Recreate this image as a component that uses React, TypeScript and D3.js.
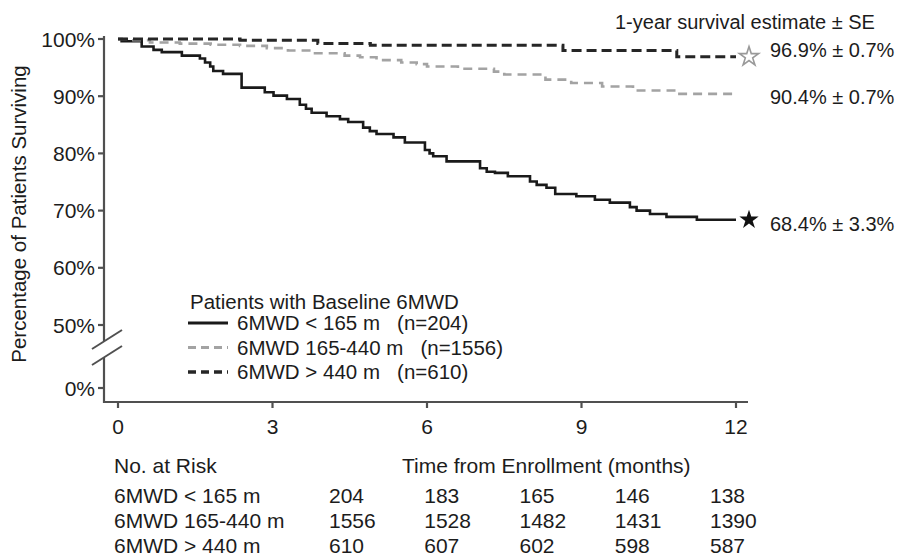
import React, { useEffect, useRef } from 'react';
import * as d3 from 'd3';

// Kaplan-Meier steps: [month, % surviving]
const lowWalk = [
  [0, 100], [0.07, 99.6], [0.46, 98.7], [0.69, 98.1], [0.85, 97.7], [1.24, 97.1],
  [1.59, 96.6], [1.69, 95.9], [1.79, 95.2], [1.85, 94.4], [2.04, 93.9], [2.4, 91.5],
  [2.85, 90.7], [3.02, 90.1], [3.28, 89.5], [3.53, 88.5], [3.65, 87.8], [3.76, 87.1],
  [4.05, 86.5], [4.31, 86.0], [4.47, 85.5], [4.76, 84.5], [4.89, 83.9], [5.02, 83.4],
  [5.35, 82.8], [5.57, 81.9], [5.96, 80.6], [6.05, 80.0], [6.12, 79.5], [6.38, 78.6],
  [7.03, 77.4], [7.16, 76.8], [7.32, 76.6], [7.57, 76.0], [8.0, 75.1], [8.13, 74.5],
  [8.32, 74.0], [8.49, 72.9], [8.9, 72.5], [9.26, 71.9], [9.55, 71.4], [9.94, 70.6],
  [10.07, 70.0], [10.33, 69.4], [10.65, 68.9], [11.24, 68.4], [12, 68.4]
];
const midWalk = [
  [0, 100], [0.3, 99.8], [0.62, 99.4], [1.2, 99.2], [1.8, 99.0], [2.37, 98.8],
  [2.89, 98.4], [3.3, 98.0], [3.79, 97.5], [4.4, 97.1], [4.7, 96.8], [5.02, 96.3],
  [5.5, 95.9], [5.8, 95.6], [6.0, 95.2], [6.6, 94.8], [7.3, 94.3], [7.5, 93.8],
  [8.3, 92.9], [8.8, 92.3], [9.4, 91.7], [10.0, 91.0], [10.8, 90.4], [12, 90.4]
];
const highWalk = [
  [0, 100], [2.37, 99.8], [3.88, 99.2], [4.9, 98.9], [8.64, 98.0], [10.85, 96.9], [12, 96.9]
];

const monthTicks = [0, 3, 6, 9, 12];
const pctTicks = [0, 50, 60, 70, 80, 90, 100];

const groups = ['6MWD < 165 m', '6MWD 165-440 m', '6MWD > 440 m'];
const groupN = [204, 1556, 610];
const atRisk = [
  [204, 183, 165, 146, 138],
  [1556, 1528, 1482, 1431, 1390],
  [610, 607, 602, 598, 587]
];
const estimate = [68.4, 90.4, 96.9];
const estimateSE = [3.3, 0.7, 0.7];

export default function App() {
  const svgRef = useRef<SVGSVGElement>(null);

  useEffect(() => {
    const svg = d3.select(svgRef.current);
    svg.selectAll('*').remove();

    const font = '"Liberation Sans", Arial, sans-serif';
    const ink = '#1c1c1c';
    const axisColor = '#505050';

    const x = d3.scaleLinear().domain([0, 12]).range([118, 736]);
    // broken axis: 0 .. 50 squeezed, 50 .. 100 stretched
    const y = d3.scaleLinear().domain([0, 50, 100]).range([388, 325, 39]);

    const styles = [
      { stroke: '#1a1a1a', width: 2.6, dash: null },
      { stroke: '#a3a3a3', width: 2.6, dash: '9,6' },
      { stroke: '#262626', width: 3, dash: '10,5' }
    ];
    const walks = [lowWalk, midWalk, highWalk];

    // axes
    const ax = svg.append('g').attr('stroke', axisColor).attr('stroke-width', 2.2);
    ax.append('line').attr('x1', 104).attr('x2', 104).attr('y1', 36).attr('y2', 341);
    ax.append('line').attr('x1', 104).attr('x2', 104).attr('y1', 357).attr('y2', 403);
    ax.append('line').attr('x1', 103).attr('x2', 748).attr('y1', 402).attr('y2', 402);
    [0, 16].forEach(off => {
      ax.append('line')
        .attr('x1', 92).attr('y1', 349 + off)
        .attr('x2', 122).attr('y2', 330 + off)
        .attr('stroke-width', 2);
    });

    pctTicks.forEach(t => {
      ax.append('line').attr('x1', 98).attr('x2', 104).attr('y1', y(t)).attr('y2', y(t));
      svg.append('text')
        .attr('x', 95).attr('y', y(t) + 7.5)
        .attr('text-anchor', 'end')
        .attr('font-size', 21).attr('font-family', font).attr('fill', ink)
        .text(`${t}%`);
    });

    monthTicks.forEach(m => {
      ax.append('line').attr('x1', x(m)).attr('x2', x(m)).attr('y1', 402).attr('y2', 408);
      svg.append('text')
        .attr('x', x(m)).attr('y', 434)
        .attr('text-anchor', 'middle')
        .attr('font-size', 21).attr('font-family', font).attr('fill', ink)
        .text(m);
    });

    svg.append('text')
      .attr('transform', 'translate(18,214) rotate(-90)')
      .attr('text-anchor', 'middle')
      .attr('dominant-baseline', 'central')
      .attr('font-size', 20.5).attr('font-family', font).attr('fill', ink)
      .text('Percentage of Patients Surviving');

    // survival curves
    const line = d3.line<number[]>()
      .x(d => x(d[0]))
      .y(d => y(d[1]))
      .curve(d3.curveStepAfter);

    walks.forEach((w, i) => {
      const s = styles[i];
      svg.append('path')
        .attr('d', line(w))
        .attr('fill', 'none')
        .attr('stroke', s.stroke)
        .attr('stroke-width', s.width)
        .attr('stroke-dasharray', s.dash);
    });

    // stars at 1-year estimate
    const star = d3.symbol().type(d3.symbolStar).size(115);
    svg.append('path')
      .attr('d', star())
      .attr('transform', `translate(${x(12) + 13},${y(estimate[0])})`)
      .attr('fill', '#111');
    svg.append('path')
      .attr('d', star())
      .attr('transform', `translate(${x(12) + 13},${y(estimate[2])})`)
      .attr('fill', '#fff').attr('stroke', '#999').attr('stroke-width', 1.6);

    // right-hand estimates
    svg.append('text')
      .attr('x', 615).attr('y', 29)
      .attr('font-size', 20).attr('font-family', font).attr('fill', ink)
      .text('1-year survival estimate ± SE');
    const nudge = [4, 3, -7];
    estimate.forEach((v, i) => {
      svg.append('text')
        .attr('x', 770).attr('y', y(v) + 7 + nudge[i])
        .attr('font-size', 20).attr('font-family', font).attr('fill', ink)
        .text(`${v.toFixed(1)}% ± ${estimateSE[i].toFixed(1)}%`);
    });

    // legend
    const lg = svg.append('g').attr('font-family', font).attr('fill', ink).attr('font-size', 20.5);
    lg.append('text').attr('x', 190).attr('y', 309).text('Patients with Baseline 6MWD');
    groups.forEach((name, i) => {
      const cy = 323 + i * 24.5;
      const s = styles[i];
      lg.append('line')
        .attr('x1', 188).attr('x2', 228).attr('y1', cy).attr('y2', cy)
        .attr('stroke', s.stroke).attr('stroke-width', s.width + 0.4)
        .attr('stroke-dasharray', s.dash ? '8,5' : null);
      lg.append('text')
        .attr('x', 237).attr('y', cy + 7)
        .style('white-space', 'pre')
        .text(`${name}   (n=${groupN[i]})`);
    });

    // number at risk table
    const col = d3.scaleLinear().domain([0, 4]).range([329, 710]);
    const tb = svg.append('g').attr('font-family', font).attr('fill', ink).attr('font-size', 21);
    tb.append('text').attr('x', 114).attr('y', 473).text('No. at Risk');
    tb.append('text').attr('x', 402).attr('y', 473).text('Time from Enrollment (months)');
    groups.forEach((name, i) => {
      const by = 503 + i * 25;
      tb.append('text').attr('x', 114).attr('y', by).text(name);
      atRisk[i].forEach((n, j) => {
        tb.append('text').attr('x', col(j)).attr('y', by).text(n);
      });
    });
  }, []);

  return (
    <div style={{ position: 'absolute', left: 0, top: 0 }}>
      <svg ref={svgRef} width={906} height={559} style={{ display: 'block', background: '#fff' }} />
    </div>
  );
}
